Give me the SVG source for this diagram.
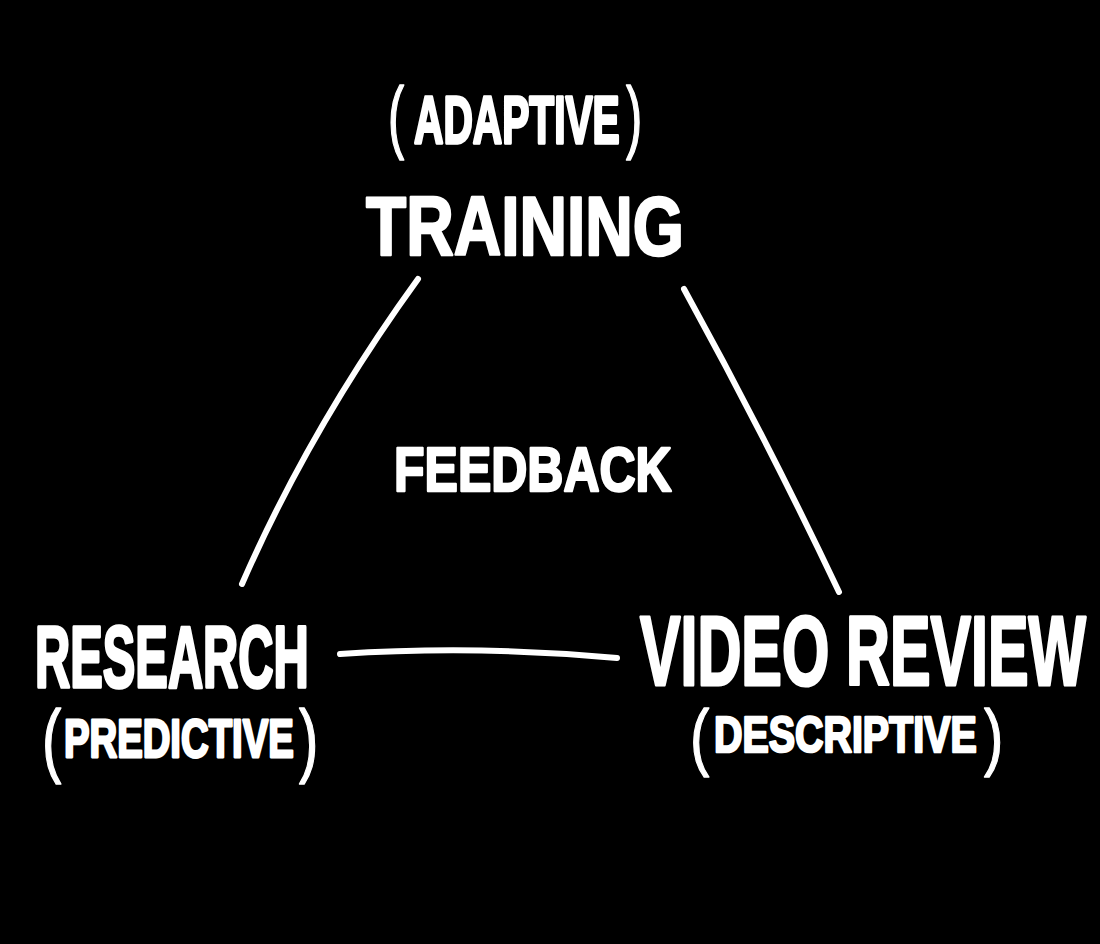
<svg xmlns="http://www.w3.org/2000/svg" width="1100" height="944" viewBox="0 0 1100 944">
<style>
.t{fill:#fff;stroke:#fff;stroke-width:2;stroke-linejoin:round;font-family:"Liberation Sans",Arial,sans-serif;font-weight:bold}
.p{font-weight:normal;stroke-width:1}
.c{fill:none;stroke:#fff;stroke-width:6;stroke-linecap:round}
</style>
<rect width="1100" height="944" fill="#000"/>
<g id="connectors">
<path class="c" d="M418,279 Q310,428 242,584"/>
<path class="c" d="M684,289 Q767,440 839,592"/>
<path class="c" d="M340,654 Q478,645 617,658"/>
</g>
<g id="training">
<text class="t" transform="translate(0,143) scale(1,1.64)"><tspan class="p" x="388" font-size="48.6">(</tspan><tspan x="414" font-size="40.7">ADAPTIVE</tspan><tspan class="p" x="626" font-size="48.6">)</tspan></text>
<text class="t" transform="translate(366,255) scale(1,1.27)" font-size="65.8">TRAINING</text>
</g>
<g id="feedback">
<text class="t" transform="translate(394,491) scale(1,1.26)" font-size="50">FEEDBACK</text>
</g>
<g id="research">
<text class="t" transform="translate(35,687) scale(1,1.8)" font-size="48.8">RESEARCH</text>
<text class="t" transform="translate(0,757) scale(1,1.39)"><tspan class="p" x="42" y="7" font-size="58">(</tspan><tspan x="64" y="0" font-size="38.3">PREDICTIVE</tspan><tspan class="p" x="299" y="7" font-size="58">)</tspan></text>
</g>
<g id="video-review">
<text class="t" transform="translate(640,685) scale(1,1.61)" font-size="60.8">VIDEO REVIEW</text>
<text class="t" transform="translate(0,752) scale(1,1.28)"><tspan class="p" x="690" y="8" font-size="58">(</tspan><tspan x="714" y="0" font-size="39.4">DESCRIPTIVE</tspan><tspan class="p" x="984" y="8" font-size="58">)</tspan></text>
</g>
</svg>
